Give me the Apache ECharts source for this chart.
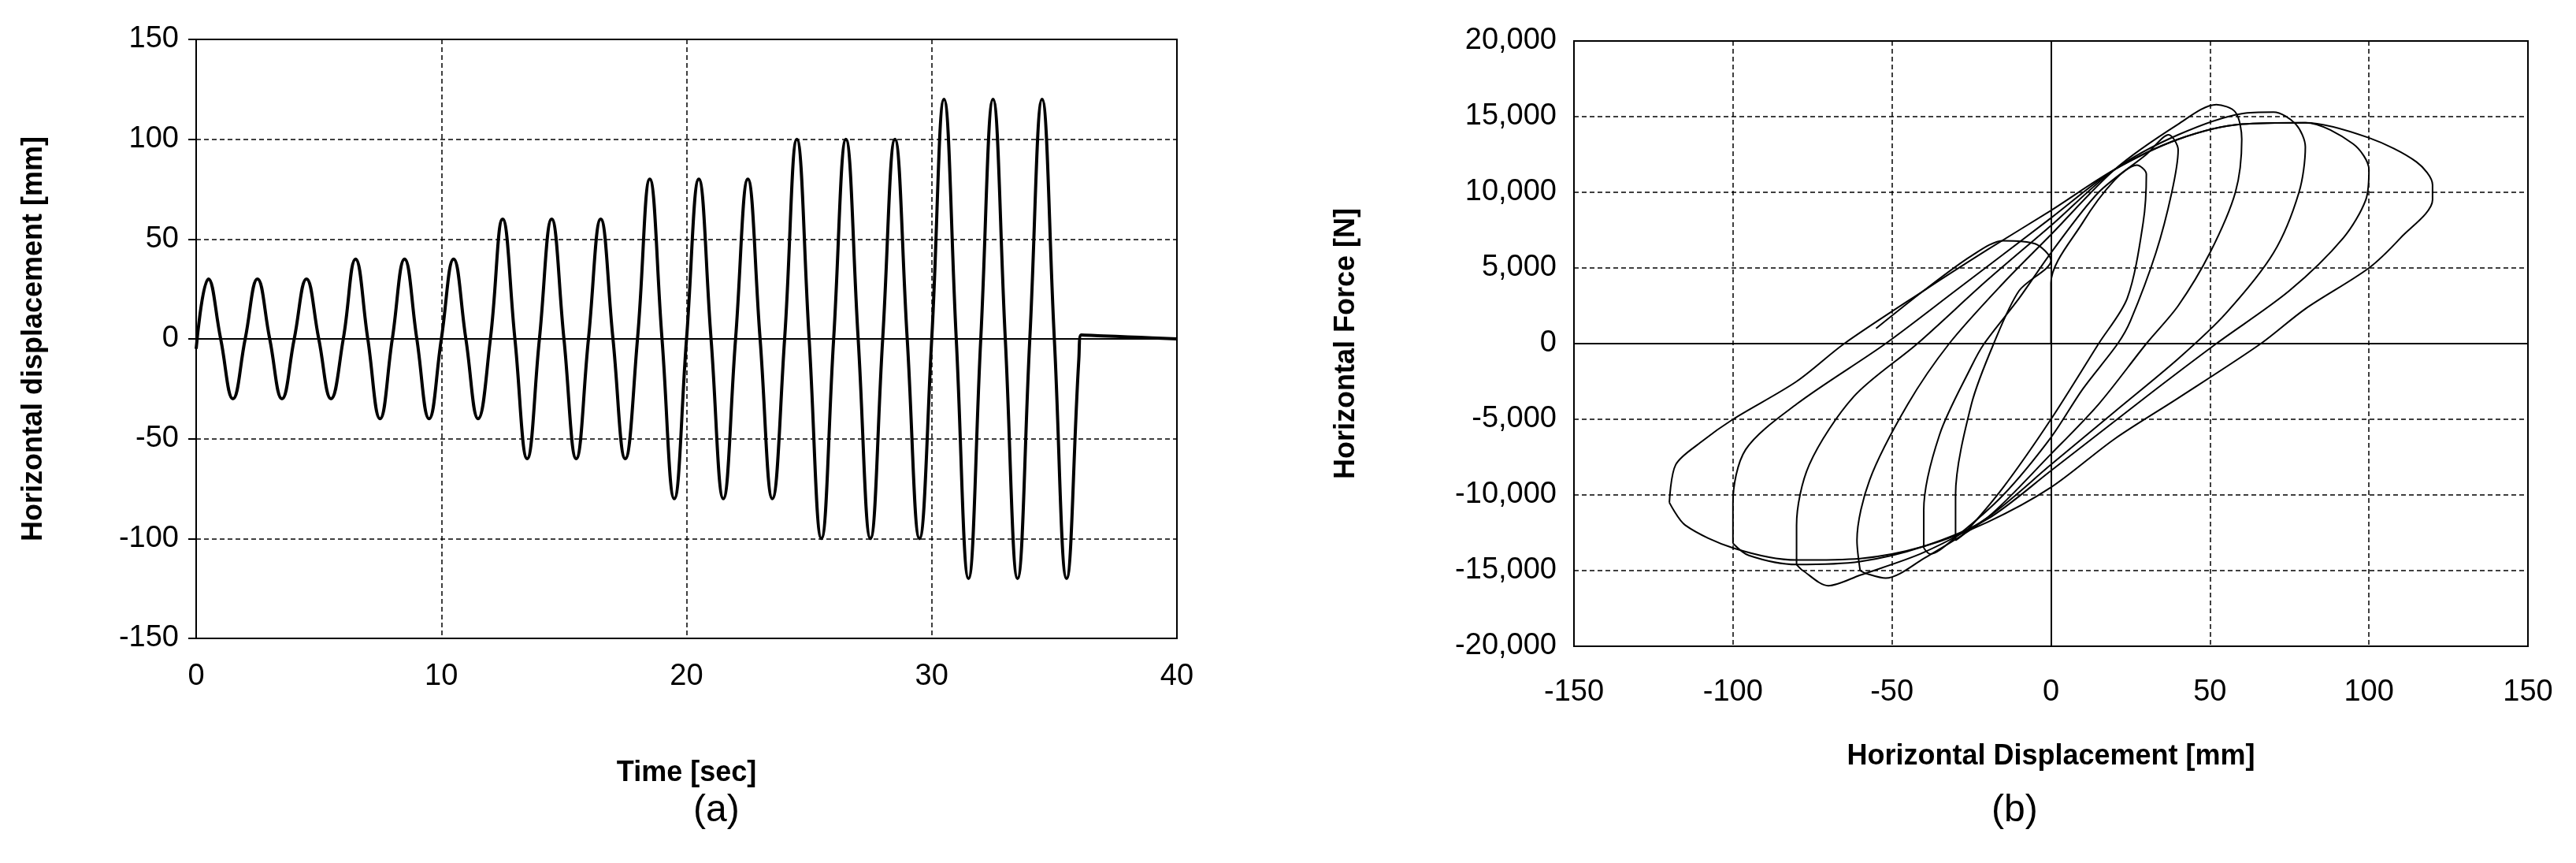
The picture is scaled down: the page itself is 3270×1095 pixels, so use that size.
<!DOCTYPE html>
<html><head><meta charset="utf-8">
<script src="https://cdn.jsdelivr.net/npm/echarts@6/dist/echarts.min.js"></script>
<style>html,body{margin:0;background:#fff}#c{width:3270px;height:1095px}</style>
</head><body><div id="c"></div>
<script>
// Panel (a): time history, peaks / troughs / zero crossings
const timeSec = [0,0.5,1,1.5,2,2.5,3,3.5,4,4.5,5,5.5,6,6.5,7,7.5,8,8.5,9,9.5,10,10.5,11,11.5,12,12.5,13,13.5,14,14.5,15,15.5,16,16.5,17,17.5,18,18.5,19,19.5,20,20.5,21,21.5,22,22.5,23,23.5,24,24.5,25,25.5,26,26.5,27,27.5,28,28.5,29,29.5,30,30.5,31,31.5,32,32.5,33,33.5,34,34.5,35,35.5,36,36.1,37,38,39,40];
const dispMm  = [-5,30,0,-30,0,30,0,-30,0,30,0,-30,0,40,0,-40,0,40,0,-40,0,40,0,-40,0,60,0,-60,0,60,0,-60,0,60,0,-60,0,80,0,-80,0,80,0,-80,0,80,0,-80,0,100,0,-100,0,100,0,-100,0,100,0,-100,0,120,0,-120,0,120,0,-120,0,120,0,-120,-10,2,1.5,1,0.5,0];

// Panel (b): hysteresis loops (displacement mm, force N)
const loop120 = [[-120,-10500],[-118,-8000],[-110,-6500],[-100,-5000],[-80,-2500],[-65,0],[-40,3500],[-20,6200],[0,8800],[20,11500],[40,13500],[60,14500],[80,14600],[100,13600],[115,12000],[120,10500],[120,9500],[110,7000],[100,5000],[80,2300],[66,0],[40,-3600],[20,-6300],[0,-9500],[-20,-11800],[-40,-13400],[-60,-14200],[-80,-14300],[-100,-13500],[-115,-12000],[-120,-10500]];
const loop100 = [[-100,-13200],[-100,-10500],[-96,-7000],[-80,-4000],[-52,0],[-30,3500],[0,8300],[20,11500],[40,13500],[60,14500],[80,14600],[95,13200],[100,11500],[99,9500],[92,7000],[75,3500],[52,0],[30,-3500],[0,-8400],[-20,-11600],[-40,-13400],[-60,-14400],[-80,-14600],[-95,-14000],[-100,-13200]];
const loop80 = [[-80,-14600],[-80,-12000],[-76,-8000],[-62,-3500],[-42,0],[-20,4200],[0,7800],[20,11500],[40,13800],[60,15200],[70,15300],[77,14500],[80,13000],[78,10000],[70,6000],[55,2000],[40,-1000],[20,-4500],[0,-8000],[-20,-11500],[-40,-13800],[-60,-15300],[-70,-16000],[-78,-15000],[-80,-14600]];
const loop60 = [[-60,-15000],[-61,-13000],[-57,-9000],[-45,-4000],[-32,0],[-15,4000],[0,7200],[20,11500],[40,14500],[52,15800],[58,15300],[60,13500],[58,10000],[50,6000],[40,2500],[30,0],[15,-4000],[0,-7300],[-20,-11500],[-40,-14200],[-52,-15500],[-58,-15200],[-60,-15000]];
const loop40 = [[-40,-13500],[-40,-11000],[-35,-6000],[-25,-1500],[-21,0],[-10,3000],[0,6000],[15,10000],[30,12500],[37,13800],[40,12800],[38,10000],[33,6000],[25,1500],[21,0],[10,-3000],[0,-6200],[-15,-10000],[-30,-12800],[-38,-13900],[-40,-13500]];
const loop30 = [[0,0],[0,4000],[10,8000],[20,10800],[27,11800],[30,11200],[29,8000],[24,3000],[15,0],[0,-5000],[-15,-9500],[-27,-12500],[-30,-13000],[-30,-10000],[-25,-4000],[-18,0],[-10,3500],[0,5500],[-5,6600],[-15,6800],[-25,5800],[-40,3500],[-55,1000]];
const loops = [loop120, loop100, loop80, loop60, loop40, loop30];

const ff = "'Liberation Sans Narrow','Liberation Sans',sans-serif";
const lab = {fontFamily:ff,fontSize:38,color:'#000'};
const nameSt = {fontFamily:ff,fontSize:36,fontWeight:'bold',color:'#000'};
const dashed = {show:true,lineStyle:{color:'#000',type:[6,4],width:1.5}};
const zeroLineX = {silent:true,symbol:'none',label:{show:false},lineStyle:{color:'#000',type:'solid',width:2},data:[{yAxis:0}]};

const chart = echarts.init(document.getElementById('c'));
const series = [{type:'line',xAxisIndex:0,yAxisIndex:0,data:timeSec.map((t,i)=>[t,dispMm[i]]),smooth:0.45,showSymbol:false,lineStyle:{color:'#000',width:4},markLine:zeroLineX}];
loops.forEach((l,i)=>series.push({type:'line',xAxisIndex:1,yAxisIndex:1,data:l,smooth:0.3,showSymbol:false,lineStyle:{color:'#000',width:2},
  markLine: i===0 ? {silent:true,symbol:'none',label:{show:false},lineStyle:{color:'#000',type:'solid',width:2},data:[{yAxis:0},{xAxis:0}]} : undefined}));

chart.setOption({
  animation:false,
  grid:[{left:249,top:50,width:1245,height:760,show:true,borderColor:'#000',borderWidth:2},
        {left:1998,top:52,width:1211,height:768,show:true,borderColor:'#000',borderWidth:2}],
  xAxis:[
    {gridIndex:0,type:'value',min:0,max:40,interval:10,axisLabel:{...lab,margin:30},axisLine:{show:false},axisTick:{show:false},splitLine:dashed,
     name:'Time [sec]',nameLocation:'middle',nameGap:153,nameTextStyle:nameSt},
    {gridIndex:1,type:'value',min:-150,max:150,interval:50,axisLabel:{...lab,margin:40},axisLine:{show:false},axisTick:{show:false},splitLine:dashed,
     name:'Horizontal Displacement [mm]',nameLocation:'middle',nameGap:122,nameTextStyle:nameSt}],
  yAxis:[
    {gridIndex:0,type:'value',min:-150,max:150,interval:50,axisLabel:{...lab,margin:22},axisLine:{show:true,lineStyle:{color:'#000',width:2}},axisTick:{show:true,length:10,lineStyle:{color:'#000',width:2}},splitLine:dashed,
     name:'Horizontal displacement [mm]',nameLocation:'middle',nameGap:188,nameTextStyle:nameSt},
    {gridIndex:1,type:'value',min:-20000,max:20000,interval:5000,axisLabel:{...lab,margin:22},axisLine:{show:false},axisTick:{show:false},splitLine:dashed,
     name:'Horizontal Force [N]',nameLocation:'middle',nameGap:271,nameTextStyle:nameSt}],
  series,
  graphic:[
    {type:'text',left:880,top:1005,style:{text:'(a)',font:"48px "+ff,fill:'#000'}},
    {type:'text',left:2528,top:1005,style:{text:'(b)',font:"48px "+ff,fill:'#000'}}]
});
</script></body></html>
